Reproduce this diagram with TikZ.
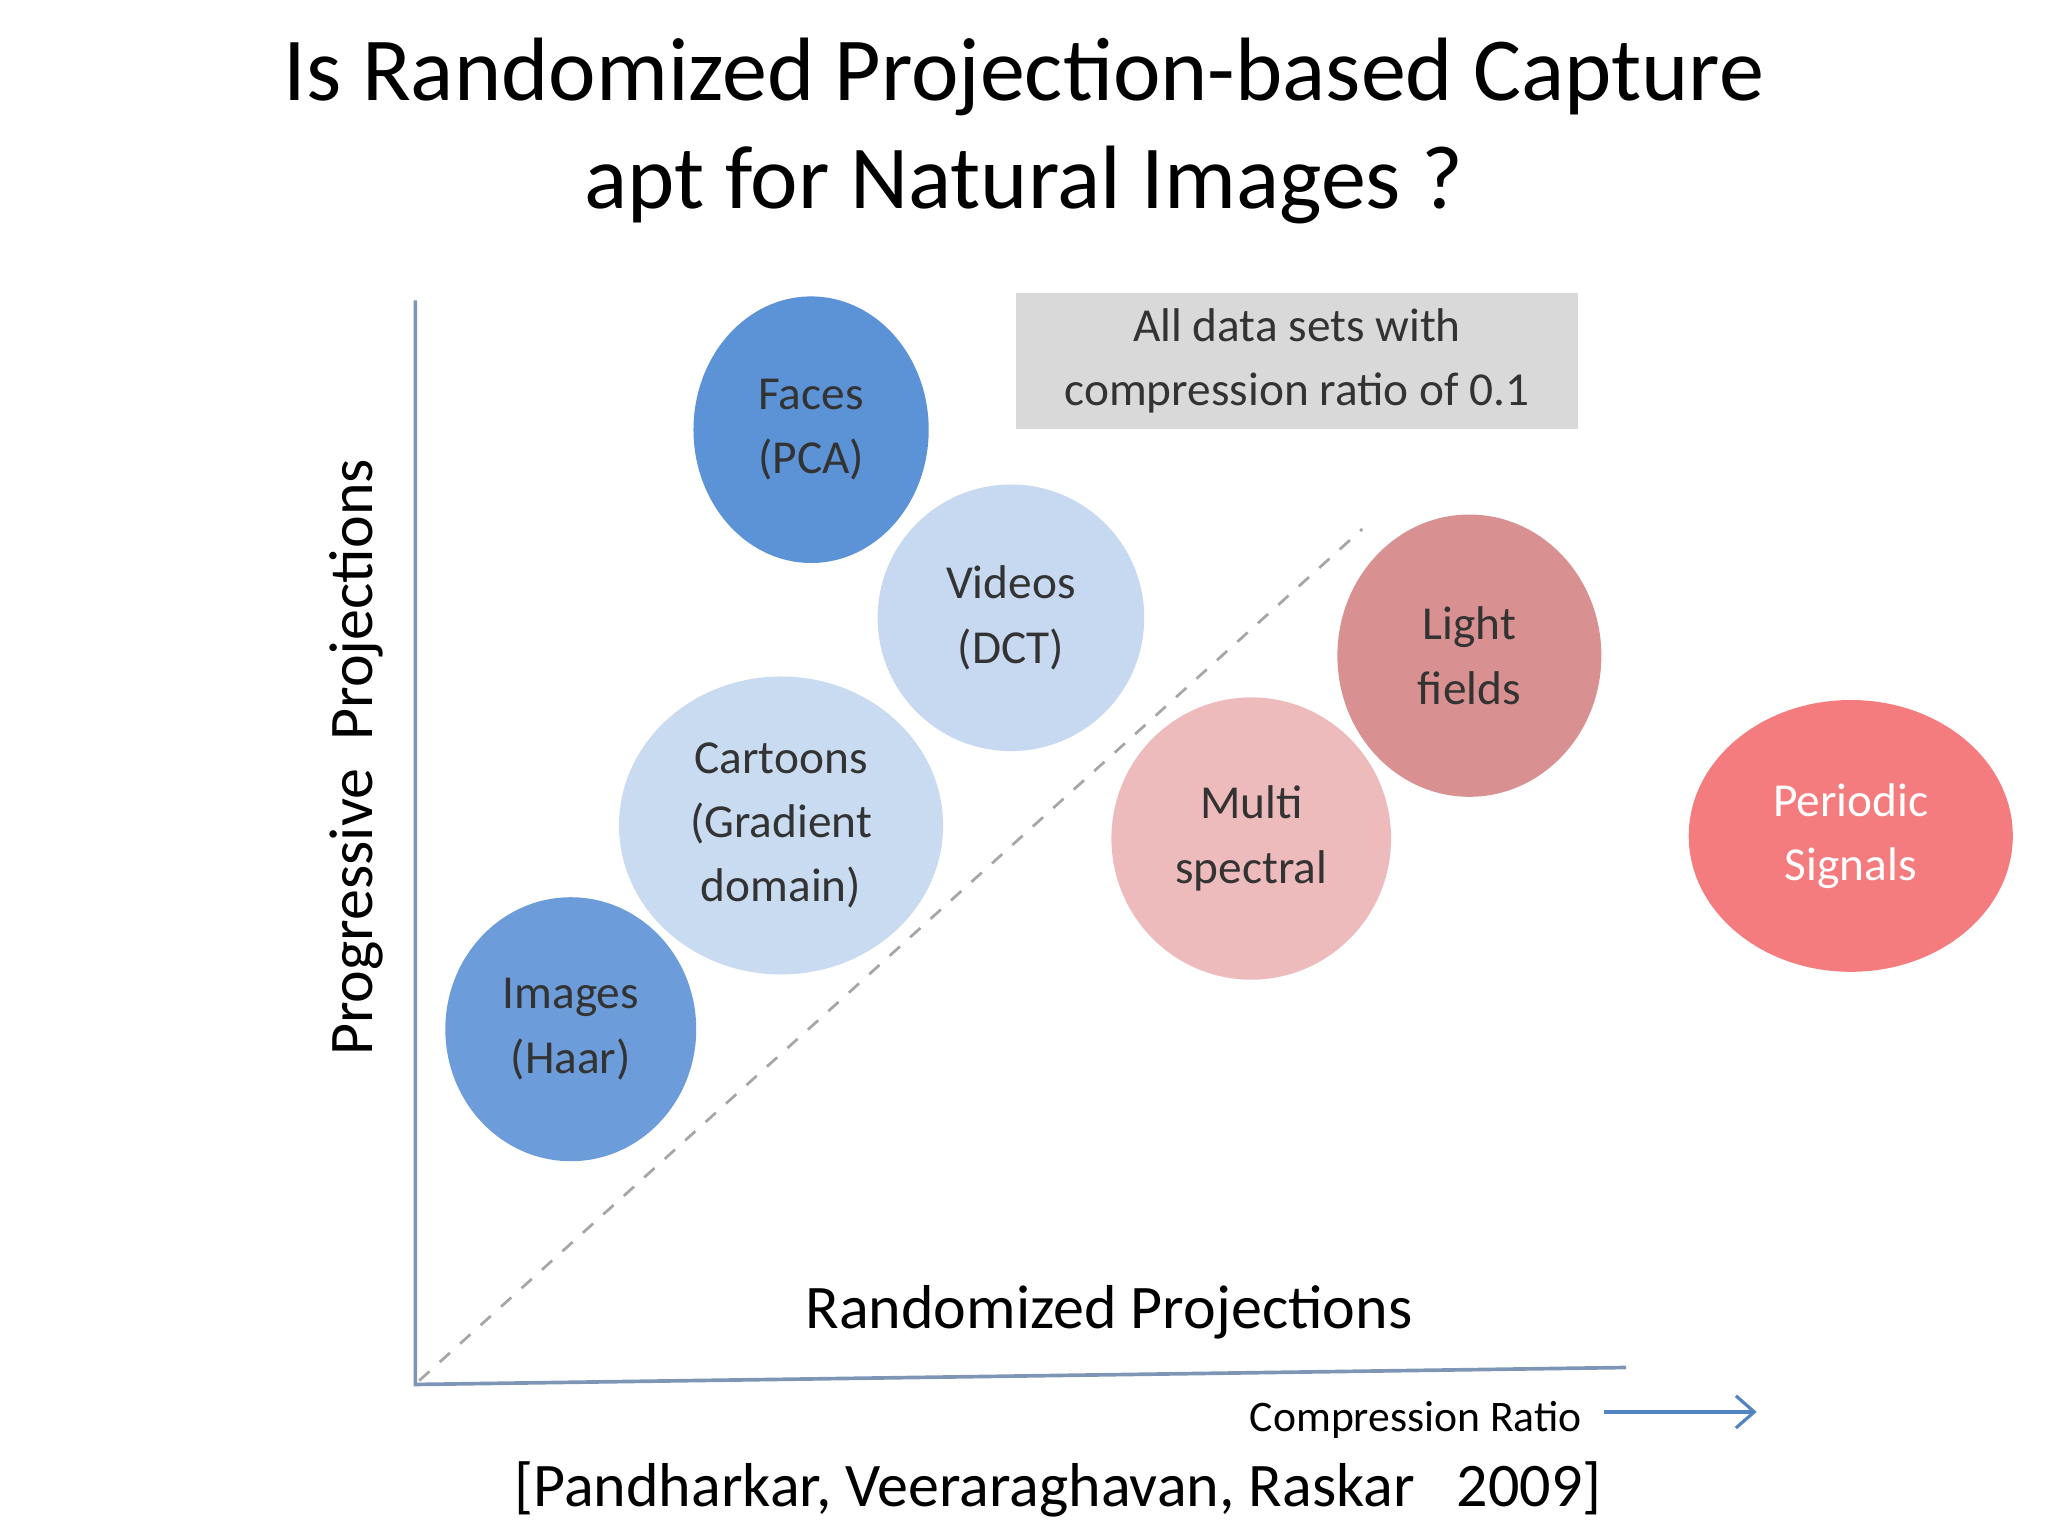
\documentclass[tikz,border=0pt]{standalone}
\usepackage{fontspec}
\setmainfont{Carlito}
\usetikzlibrary{arrows.meta}
\definecolor{cfaces}{HTML}{5B93D6}
\definecolor{cvid}{HTML}{C6D9F1}
\definecolor{ccart}{HTML}{C9DBF1}
\definecolor{cimg}{HTML}{6C9CD9}
\definecolor{clight}{HTML}{D99090}
\definecolor{cmulti}{HTML}{EDBBBB}
\definecolor{cper}{HTML}{F47C7E}
\definecolor{ctxt}{HTML}{333333}
\definecolor{caxis}{HTML}{7F95B5}
\tikzset{blob/.style={ellipse,inner sep=0pt,text=ctxt,font=\fontsize{10.3}{14}\selectfont,align=center}}
\usetikzlibrary{shapes.geometric}
\begin{document}
\begin{tikzpicture}[x=0.01cm,y=-0.01cm]
\useasboundingbox (0,0) rectangle (1568,1176);
\node (title) at (784,100) [align=center,font=\fontsize{19.6}{23.5}\selectfont] {Is Randomized Projection-based Capture\\apt for Natural Images ?};
\node (box) at (993,276.5) [fill=black!15,minimum width=4.3cm,minimum height=1.03cm,align=center,text=ctxt,font=\fontsize{10.3}{14}\selectfont] {All data sets with\\compression ratio of 0.1};
\coordinate (o) at (318,1060);
\coordinate (ytop) at (318,230);
\coordinate (xend) at (1245,1047);
\coordinate (dend) at (1043,405);
\draw[caxis,line width=0.8pt] (ytop) -- (o) -- (xend);
\draw[gray!70,dashed,line width=0.6pt] (321,1057) -- (dend);
\node (faces) at (621,329) [blob,fill=cfaces,minimum width=1.8cm,minimum height=2.04cm] {Faces\\(PCA)};
\node (videos) at (774,473) [blob,fill=cvid,minimum width=2.04cm,minimum height=2.04cm] {Videos\\(DCT)};
\node (cart) at (598,632) [blob,fill=ccart,minimum width=2.48cm,minimum height=2.28cm] {Cartoons\\(Gradient\\domain)};
\node (img) at (437,788) [blob,fill=cimg,minimum width=1.92cm,minimum height=2.02cm] {Images\\(Haar)};
\node (light) at (1125,502) [blob,fill=clight,minimum width=2.02cm,minimum height=2.16cm] {Light\\fields};
\node (multi) at (958,642) [blob,fill=cmulti,minimum width=2.14cm,minimum height=2.16cm] {Multi\\spectral};
\node (per) at (1417,640) [blob,fill=cper,text=white,minimum width=2.48cm,minimum height=2.08cm] {Periodic\\Signals};
\node (ylab) at (273,580) [rotate=90,font=\fontsize{13.5}{16}\selectfont] {Progressive\ \ Projections};
\node (xlab) at (849,1005) [font=\fontsize{13.5}{16}\selectfont] {Randomized Projections};
\node (cr) at (1084,1087) [font=\fontsize{9.5}{12}\selectfont] {Compression Ratio};
\coordinate (a1) at (1228,1081);
\coordinate (a2) at (1345,1081);
\draw[-{Straight Barb[length=4pt,width=7pt]},color=cfaces!90!black,line width=0.7pt] (a1) -- (a2);
\node (cite) at (810,1140) [font=\fontsize{13.5}{16}\selectfont] {[Pandharkar, Veeraraghavan, Raskar\ \ \ 2009]};
\end{tikzpicture}
\end{document}
